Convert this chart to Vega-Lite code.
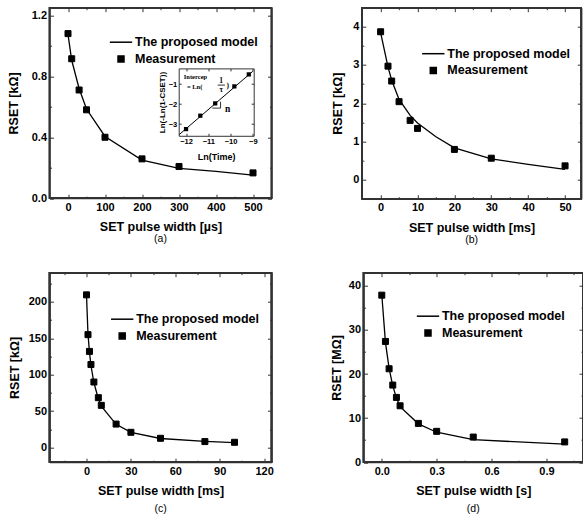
{
  "$schema": "https://vega.github.io/schema/vega-lite/v6.json",
  "background": "white",
  "padding": {"left": 6.5, "top": 6.7, "right": 0, "bottom": 0},
  "config": {
    "view": {"stroke": null},
    "font": "Liberation Sans",
    "axis": {
      "labelFont": "Liberation Sans", "labelFontWeight": "bold", "labelFontSize": 11, "labelColor": "black",
      "titleFont": "Liberation Sans", "titleFontWeight": "bold", "titleFontSize": 12.5, "titleColor": "black",
      "domainColor": "#333", "tickColor": "#333", "domainWidth": 1.2, "tickWidth": 1, "grid": false,
      "tickSize": -4, "labelPadding": 7, "labelFlush": false, "labelOverlap": false, "titlePadding": 8.5
    },
    "legend": {"orient": "none", "title": null, "labelFont": "Liberation Sans", "labelFontSize": 12.5, "labelFontWeight": "bold", "labelColor": "black", "labelOffset": 2, "rowPadding": 3.5, "padding": 0},
    "title": {"font": "Liberation Sans", "fontSize": 10.5, "fontWeight": "normal", "color": "black"}
  },
  "resolve": {"scale": {"shape": "independent", "size": "independent"}, "legend": {"shape": "independent", "size": "independent"}},
  "datasets": {
    "a_meas": [
      {"x": 0, "y": 1.08, "s": "Measurement"}, {"x": 10, "y": 0.915, "s": "Measurement"},
      {"x": 30, "y": 0.71, "s": "Measurement"}, {"x": 50, "y": 0.58, "s": "Measurement"},
      {"x": 100, "y": 0.40, "s": "Measurement"}, {"x": 200, "y": 0.258, "s": "Measurement"},
      {"x": 300, "y": 0.208, "s": "Measurement"}, {"x": 500, "y": 0.166, "s": "Measurement"}
    ],
    "a_model": [
      {"x": 0, "y": 1.075}, {"x": 10, "y": 0.905}, {"x": 30, "y": 0.72}, {"x": 50, "y": 0.585},
      {"x": 100, "y": 0.405}, {"x": 200, "y": 0.25}, {"x": 300, "y": 0.196}, {"x": 400, "y": 0.176}, {"x": 500, "y": 0.152}
    ],
    "b_meas": [
      {"x": 0, "y": 3.87, "s": "Measurement"}, {"x": 2, "y": 2.97, "s": "Measurement"},
      {"x": 3, "y": 2.58, "s": "Measurement"}, {"x": 5, "y": 2.04, "s": "Measurement"},
      {"x": 8, "y": 1.55, "s": "Measurement"}, {"x": 10, "y": 1.34, "s": "Measurement"},
      {"x": 20, "y": 0.79, "s": "Measurement"}, {"x": 30, "y": 0.56, "s": "Measurement"},
      {"x": 50, "y": 0.36, "s": "Measurement"}
    ],
    "b_model": [
      {"x": 0, "y": 3.85}, {"x": 2, "y": 2.95}, {"x": 3, "y": 2.6}, {"x": 5, "y": 2.1}, {"x": 8, "y": 1.68},
      {"x": 10, "y": 1.48}, {"x": 15, "y": 1.12}, {"x": 20, "y": 0.83}, {"x": 30, "y": 0.54}, {"x": 40, "y": 0.40}, {"x": 50, "y": 0.27}
    ],
    "c_meas": [
      {"x": 0, "y": 209.6, "s": "Measurement"}, {"x": 1, "y": 155, "s": "Measurement"},
      {"x": 2, "y": 132, "s": "Measurement"}, {"x": 3, "y": 114, "s": "Measurement"},
      {"x": 5, "y": 90, "s": "Measurement"}, {"x": 8, "y": 68.5, "s": "Measurement"},
      {"x": 10, "y": 58, "s": "Measurement"}, {"x": 20, "y": 32.3, "s": "Measurement"},
      {"x": 30, "y": 21, "s": "Measurement"}, {"x": 50, "y": 12.8, "s": "Measurement"},
      {"x": 80, "y": 8.3, "s": "Measurement"}, {"x": 100, "y": 7.3, "s": "Measurement"}
    ],
    "c_model": [
      {"x": 0, "y": 209}, {"x": 1, "y": 156}, {"x": 2, "y": 131}, {"x": 3, "y": 113}, {"x": 5, "y": 89},
      {"x": 8, "y": 67}, {"x": 10, "y": 57}, {"x": 20, "y": 32}, {"x": 30, "y": 21}, {"x": 50, "y": 12.5},
      {"x": 80, "y": 8.6}, {"x": 100, "y": 6.8}
    ],
    "d_meas": [
      {"x": 0, "y": 37.9, "s": "Measurement"}, {"x": 0.02, "y": 27.4, "s": "Measurement"},
      {"x": 0.04, "y": 21.2, "s": "Measurement"}, {"x": 0.06, "y": 17.5, "s": "Measurement"},
      {"x": 0.08, "y": 14.7, "s": "Measurement"}, {"x": 0.1, "y": 12.8, "s": "Measurement"},
      {"x": 0.2, "y": 8.8, "s": "Measurement"}, {"x": 0.3, "y": 7.0, "s": "Measurement"},
      {"x": 0.5, "y": 5.7, "s": "Measurement"}, {"x": 1.0, "y": 4.6, "s": "Measurement"}
    ],
    "d_model": [
      {"x": 0, "y": 38}, {"x": 0.02, "y": 27.2}, {"x": 0.04, "y": 21.3}, {"x": 0.06, "y": 17.3},
      {"x": 0.08, "y": 14.6}, {"x": 0.1, "y": 12.6}, {"x": 0.2, "y": 8.7}, {"x": 0.3, "y": 6.8},
      {"x": 0.5, "y": 5.1}, {"x": 1.0, "y": 4.1}
    ],
    "in_pts": [
      {"x": -12.0, "y": -3.25}, {"x": -11.36, "y": -2.58}, {"x": -10.69, "y": -1.965},
      {"x": -9.83, "y": -1.115}, {"x": -9.18, "y": -0.515}
    ],
    "in_fit": [{"x": -12.3, "y": -3.52}, {"x": -9.0, "y": -0.36}],
    "in_rules": [
      {"x": -10.82, "x2": -10.45, "y": -2.2, "y2": -2.2},
      {"x": -10.45, "x2": -10.45, "y": -1.88, "y2": -2.2},
      {"x": -10.58, "x2": -10.25, "y": -1.05, "y2": -1.05}
    ],
    "in_txt1": [{"x": -12.1, "y": -0.67, "t": "Intercep"}, {"x": -11.96, "y": -1.16, "t": "= Ln("}],
    "in_txt2": [{"x": -10.42, "y": -0.85, "t": "1"}, {"x": -10.42, "y": -1.28, "t": "τ"}, {"x": -10.13, "y": -1.12, "t": ")"}],
    "in_txt3": [{"x": -10.25, "y": -2.27, "t": "n"}]
  },
  "vconcat": [
    {
      "spacing": 58.3,
      "resolve": {"scale": {"shape": "independent", "size": "independent"}, "legend": {"shape": "independent", "size": "independent"}},
      "hconcat": [
        {
          "width": 222, "height": 190.5,
          "title": {"text": "(a)", "orient": "bottom", "offset": 1},
          "layer": [
            {"data": {"name": "a_meas"}, "mark": {"type": "rect", "filled": false, "fill": "transparent", "stroke": "#333", "strokeWidth": 1.2},
             "encoding": {
               "x": {"datum": -50, "type": "quantitative", "scale": {"domain": [-50, 550], "nice": false, "zero": false}, "axis": null},
               "x2": {"datum": 550},
               "y": {"datum": 0, "type": "quantitative", "scale": {"domain": [0, 1.25], "nice": false, "zero": false}, "axis": null},
               "y2": {"datum": 1.25}}},
            {"data": {"name": "a_model"}, "mark": {"type": "line", "color": "black", "strokeWidth": 1.3},
             "encoding": {
               "x": {"field": "x", "type": "quantitative", "scale": {"domain": [-50, 550], "nice": false, "zero": false},
                     "axis": {"orient": "bottom", "values": [0, 100, 200, 300, 400, 500], "title": "SET pulse width [µs]"}},
               "y": {"field": "y", "type": "quantitative", "scale": {"domain": [0, 1.25], "nice": false, "zero": false},
                     "axis": {"orient": "left", "values": [0, 0.4, 0.8, 1.2], "format": ".1f", "title": "RSET [kΩ]", "titlePadding": 11}}}},
            {"data": {"name": "a_meas"}, "mark": {"type": "point", "filled": true, "fill": "black", "stroke": "black", "strokeWidth": 1, "opacity": 1},
             "encoding": {
               "x": {"field": "x", "type": "quantitative", "scale": {"domain": [-50, 550], "nice": false, "zero": false},
                     "axis": {"orient": "top", "values": [0, 100, 200, 300, 400, 500], "labels": false, "title": null}},
               "y": {"field": "y", "type": "quantitative", "scale": {"domain": [0, 1.25], "nice": false, "zero": false},
                     "axis": {"orient": "right", "values": [0, 0.4, 0.8, 1.2], "labels": false, "title": null}},
               "shape": {"field": "s", "type": "nominal", "scale": {"domain": ["The proposed model", "Measurement"], "range": ["stroke", "square"]},
                         "legend": {"legendX": 59.5, "legendY": 22.5, "encode": {"symbols": {"update": {"stroke": {"value": "black"}, "strokeWidth": {"value": 1.3}, "fill": {"value": "black"}, "opacity": {"value": 1}}}}}},
               "size": {"field": "s", "type": "nominal", "scale": {"type": "ordinal", "domain": ["The proposed model", "Measurement"], "range": [500, 36]},
                         "legend": {"legendX": 59.5, "legendY": 22.5, "encode": {"symbols": {"update": {"stroke": {"value": "black"}, "strokeWidth": {"value": 1.3}, "fill": {"value": "black"}, "opacity": {"value": 1}}}}}}}},
            {"data": {"name": "a_meas"}, "mark": {"type": "point", "opacity": 0},
             "encoding": {
               "x": {"field": "x", "type": "quantitative", "scale": {"domain": [-50, 550], "nice": false, "zero": false},
                     "axis": {"orient": "bottom", "values": [50, 150, 250, 350, 450], "labels": false, "domain": false, "tickSize": -2, "title": null}},
               "y": {"field": "y", "type": "quantitative", "scale": {"domain": [0, 1.25], "nice": false, "zero": false},
                     "axis": {"orient": "left", "values": [0.2, 0.6, 1.0], "labels": false, "domain": false, "tickSize": -2, "title": null}}}},
            {"data": {"name": "a_meas"}, "mark": {"type": "point", "opacity": 0},
             "encoding": {
               "x": {"field": "x", "type": "quantitative", "scale": {"domain": [-50, 550], "nice": false, "zero": false},
                     "axis": {"orient": "top", "values": [50, 150, 250, 350, 450], "labels": false, "domain": false, "tickSize": -2, "title": null}},
               "y": {"field": "y", "type": "quantitative", "scale": {"domain": [0, 1.25], "nice": false, "zero": false},
                     "axis": {"orient": "right", "values": [0.2, 0.6, 1.0], "labels": false, "domain": false, "tickSize": -2, "title": null}}}},
            {"data": {"name": "in_fit"}, "mark": {"type": "line", "color": "black", "strokeWidth": 1},
             "encoding": {
               "x": {"field": "x", "type": "quantitative", "scale": {"domain": [-12.33, -8.96], "range": [129.2, 204.2], "nice": false, "zero": false},
                     "axis": {"orient": "bottom", "offset": -62.4, "values": [-12, -11, -10, -9], "tickSize": -2.5, "labelPadding": 4.5, "labelFontSize": 7.5, "title": "Ln(Time)", "titleFontSize": 9, "titlePadding": 7, "domainWidth": 1}},
               "y": {"field": "y", "type": "quantitative", "scale": {"domain": [-3.58, -0.215], "range": [128, 60.7], "nice": false, "zero": false},
                     "axis": {"orient": "left", "offset": -129.2, "values": [-3, -2, -1], "tickSize": -2.5, "labelPadding": 4.5, "labelFontSize": 7.5, "title": "Ln(-Ln(1-CSET))", "titleFontSize": 8, "titlePadding": 2, "domainWidth": 1}}}},
            {"data": {"name": "in_pts"}, "mark": {"type": "square", "color": "black", "size": 18, "opacity": 1},
             "encoding": {
               "x": {"field": "x", "type": "quantitative", "scale": {"domain": [-12.33, -8.96], "range": [129.2, 204.2], "nice": false, "zero": false},
                     "axis": {"orient": "top", "offset": -60.7, "values": [-12, -11, -10, -9], "tickSize": -2.5, "labels": false, "title": null, "domainWidth": 1}},
               "y": {"field": "y", "type": "quantitative", "scale": {"domain": [-3.58, -0.215], "range": [128, 60.7], "nice": false, "zero": false},
                     "axis": {"orient": "right", "offset": -17.8, "values": [-3, -2, -1], "tickSize": -2.5, "labels": false, "title": null, "domainWidth": 1}}}},
            {"data": {"name": "in_rules"}, "mark": {"type": "rule", "color": "black", "strokeWidth": 0.8},
             "encoding": {
               "x": {"field": "x", "type": "quantitative", "scale": {"domain": [-12.33, -8.96], "range": [129.2, 204.2], "nice": false, "zero": false}, "axis": null},
               "x2": {"field": "x2"},
               "y": {"field": "y", "type": "quantitative", "scale": {"domain": [-3.58, -0.215], "range": [128, 60.7], "nice": false, "zero": false}, "axis": null},
               "y2": {"field": "y2"}}},
            {"data": {"name": "in_txt1"}, "mark": {"type": "text", "font": "Liberation Serif", "fontWeight": "bold", "fontSize": 6.5, "align": "left", "baseline": "middle", "color": "black"},
             "encoding": {
               "x": {"field": "x", "type": "quantitative", "scale": {"domain": [-12.33, -8.96], "range": [129.2, 204.2], "nice": false, "zero": false}, "axis": null},
               "y": {"field": "y", "type": "quantitative", "scale": {"domain": [-3.58, -0.215], "range": [128, 60.7], "nice": false, "zero": false}, "axis": null},
               "text": {"field": "t", "type": "nominal"}}},
            {"data": {"name": "in_txt2"}, "mark": {"type": "text", "font": "Liberation Serif", "fontWeight": "bold", "fontSize": 7.5, "align": "center", "baseline": "middle", "color": "black"},
             "encoding": {
               "x": {"field": "x", "type": "quantitative", "scale": {"domain": [-12.33, -8.96], "range": [129.2, 204.2], "nice": false, "zero": false}, "axis": null},
               "y": {"field": "y", "type": "quantitative", "scale": {"domain": [-3.58, -0.215], "range": [128, 60.7], "nice": false, "zero": false}, "axis": null},
               "text": {"field": "t", "type": "nominal"}}},
            {"data": {"name": "in_txt3"}, "mark": {"type": "text", "font": "Liberation Serif", "fontWeight": "bold", "fontSize": 9.5, "align": "left", "baseline": "middle", "color": "black"},
             "encoding": {
               "x": {"field": "x", "type": "quantitative", "scale": {"domain": [-12.33, -8.96], "range": [129.2, 204.2], "nice": false, "zero": false}, "axis": null},
               "y": {"field": "y", "type": "quantitative", "scale": {"domain": [-3.58, -0.215], "range": [128, 60.7], "nice": false, "zero": false}, "axis": null},
               "text": {"field": "t", "type": "nominal"}}}
          ],
          "resolve": {"scale": {"x": "independent", "y": "independent"}, "axis": {"x": "independent", "y": "independent"}}
        },
        {
          "width": 219.5, "height": 191,
          "title": {"text": "(b)", "orient": "bottom", "offset": 1},
          "layer": [
            {"data": {"name": "b_meas"}, "mark": {"type": "rect", "filled": false, "fill": "transparent", "stroke": "#333", "strokeWidth": 1.2},
             "encoding": {
               "x": {"datum": -5.1, "type": "quantitative", "scale": {"domain": [-5.1, 54.4], "nice": false, "zero": false}, "axis": null},
               "x2": {"datum": 54.4},
               "y": {"datum": -0.5, "type": "quantitative", "scale": {"domain": [-0.5, 4.5], "nice": false, "zero": false}, "axis": null},
               "y2": {"datum": 4.5}}},
            {"data": {"name": "b_model"}, "mark": {"type": "line", "color": "black", "strokeWidth": 1.3},
             "encoding": {
               "x": {"field": "x", "type": "quantitative", "scale": {"domain": [-5.1, 54.4], "nice": false, "zero": false},
                     "axis": {"orient": "bottom", "values": [0, 10, 20, 30, 40, 50], "title": "SET pulse width [ms]"}},
               "y": {"field": "y", "type": "quantitative", "scale": {"domain": [-0.5, 4.5], "nice": false, "zero": false},
                     "axis": {"orient": "left", "values": [0, 1, 2, 3, 4], "title": "RSET [kΩ]", "titlePadding": 8.5}}}},
            {"data": {"name": "b_meas"}, "mark": {"type": "point", "filled": true, "fill": "black", "stroke": "black", "strokeWidth": 1, "opacity": 1},
             "encoding": {
               "x": {"field": "x", "type": "quantitative", "scale": {"domain": [-5.1, 54.4], "nice": false, "zero": false},
                     "axis": {"orient": "top", "values": [0, 10, 20, 30, 40, 50], "labels": false, "title": null}},
               "y": {"field": "y", "type": "quantitative", "scale": {"domain": [-0.5, 4.5], "nice": false, "zero": false},
                     "axis": {"orient": "right", "values": [0, 1, 2, 3, 4], "labels": false, "title": null}},
               "shape": {"field": "s", "type": "nominal", "scale": {"domain": ["The proposed model", "Measurement"], "range": ["stroke", "square"]},
                         "legend": {"legendX": 59.5, "legendY": 34, "encode": {"symbols": {"update": {"stroke": {"value": "black"}, "strokeWidth": {"value": 1.3}, "fill": {"value": "black"}, "opacity": {"value": 1}}}}}},
               "size": {"field": "s", "type": "nominal", "scale": {"type": "ordinal", "domain": ["The proposed model", "Measurement"], "range": [500, 36]},
                         "legend": {"legendX": 59.5, "legendY": 34, "encode": {"symbols": {"update": {"stroke": {"value": "black"}, "strokeWidth": {"value": 1.3}, "fill": {"value": "black"}, "opacity": {"value": 1}}}}}}}},
            {"data": {"name": "b_meas"}, "mark": {"type": "point", "opacity": 0},
             "encoding": {
               "x": {"field": "x", "type": "quantitative", "scale": {"domain": [-5.1, 54.4], "nice": false, "zero": false},
                     "axis": {"orient": "bottom", "values": [5, 15, 25, 35, 45], "labels": false, "domain": false, "tickSize": -2, "title": null}},
               "y": {"field": "y", "type": "quantitative", "scale": {"domain": [-0.5, 4.5], "nice": false, "zero": false},
                     "axis": {"orient": "left", "values": [0.5, 1.5, 2.5, 3.5], "labels": false, "domain": false, "tickSize": -2, "title": null}}}},
            {"data": {"name": "b_meas"}, "mark": {"type": "point", "opacity": 0},
             "encoding": {
               "x": {"field": "x", "type": "quantitative", "scale": {"domain": [-5.1, 54.4], "nice": false, "zero": false},
                     "axis": {"orient": "top", "values": [5, 15, 25, 35, 45], "labels": false, "domain": false, "tickSize": -2, "title": null}},
               "y": {"field": "y", "type": "quantitative", "scale": {"domain": [-0.5, 4.5], "nice": false, "zero": false},
                     "axis": {"orient": "right", "values": [0.5, 1.5, 2.5, 3.5], "labels": false, "domain": false, "tickSize": -2, "title": null}}}}
          ],
          "resolve": {"scale": {"x": "independent", "y": "independent"}, "axis": {"x": "independent", "y": "independent"}}
        }
      ]
    },
    {
      "spacing": 56,
      "resolve": {"scale": {"shape": "independent", "size": "independent"}, "legend": {"shape": "independent", "size": "independent"}},
      "hconcat": [
        {
          "width": 222, "height": 189.5,
          "title": {"text": "(c)", "orient": "bottom", "offset": 6.5},
          "layer": [
            {"data": {"name": "c_meas"}, "mark": {"type": "rect", "filled": false, "fill": "transparent", "stroke": "#333", "strokeWidth": 1.2},
             "encoding": {
               "x": {"datum": -25, "type": "quantitative", "scale": {"domain": [-25, 125], "nice": false, "zero": false}, "axis": null},
               "x2": {"datum": 125},
               "y": {"datum": -20, "type": "quantitative", "scale": {"domain": [-20, 240], "nice": false, "zero": false}, "axis": null},
               "y2": {"datum": 240}}},
            {"data": {"name": "c_model"}, "mark": {"type": "line", "color": "black", "strokeWidth": 1.3},
             "encoding": {
               "x": {"field": "x", "type": "quantitative", "scale": {"domain": [-25, 125], "nice": false, "zero": false},
                     "axis": {"orient": "bottom", "values": [0, 30, 60, 90, 120], "title": "SET pulse width [ms]"}},
               "y": {"field": "y", "type": "quantitative", "scale": {"domain": [-20, 240], "nice": false, "zero": false},
                     "axis": {"orient": "left", "values": [0, 50, 100, 150, 200], "title": "RSET [kΩ]", "titlePadding": 6.5}}}},
            {"data": {"name": "c_meas"}, "mark": {"type": "point", "filled": true, "fill": "black", "stroke": "black", "strokeWidth": 1, "opacity": 1},
             "encoding": {
               "x": {"field": "x", "type": "quantitative", "scale": {"domain": [-25, 125], "nice": false, "zero": false},
                     "axis": {"orient": "top", "values": [0, 30, 60, 90, 120], "labels": false, "title": null}},
               "y": {"field": "y", "type": "quantitative", "scale": {"domain": [-20, 240], "nice": false, "zero": false},
                     "axis": {"orient": "right", "values": [0, 50, 100, 150, 200], "labels": false, "title": null}},
               "shape": {"field": "s", "type": "nominal", "scale": {"domain": ["The proposed model", "Measurement"], "range": ["stroke", "square"]},
                         "legend": {"legendX": 60.7, "legendY": 34.5, "encode": {"symbols": {"update": {"stroke": {"value": "black"}, "strokeWidth": {"value": 1.3}, "fill": {"value": "black"}, "opacity": {"value": 1}}}}}},
               "size": {"field": "s", "type": "nominal", "scale": {"type": "ordinal", "domain": ["The proposed model", "Measurement"], "range": [500, 36]},
                         "legend": {"legendX": 60.7, "legendY": 34.5, "encode": {"symbols": {"update": {"stroke": {"value": "black"}, "strokeWidth": {"value": 1.3}, "fill": {"value": "black"}, "opacity": {"value": 1}}}}}}}},
            {"data": {"name": "c_meas"}, "mark": {"type": "point", "opacity": 0},
             "encoding": {
               "x": {"field": "x", "type": "quantitative", "scale": {"domain": [-25, 125], "nice": false, "zero": false},
                     "axis": {"orient": "bottom", "values": [-15, 15, 45, 75, 105], "labels": false, "domain": false, "tickSize": -2, "title": null}},
               "y": {"field": "y", "type": "quantitative", "scale": {"domain": [-20, 240], "nice": false, "zero": false},
                     "axis": {"orient": "left", "values": [25, 75, 125, 175, 225], "labels": false, "domain": false, "tickSize": -2, "title": null}}}},
            {"data": {"name": "c_meas"}, "mark": {"type": "point", "opacity": 0},
             "encoding": {
               "x": {"field": "x", "type": "quantitative", "scale": {"domain": [-25, 125], "nice": false, "zero": false},
                     "axis": {"orient": "top", "values": [-15, 15, 45, 75, 105], "labels": false, "domain": false, "tickSize": -2, "title": null}},
               "y": {"field": "y", "type": "quantitative", "scale": {"domain": [-20, 240], "nice": false, "zero": false},
                     "axis": {"orient": "right", "values": [25, 75, 125, 175, 225], "labels": false, "domain": false, "tickSize": -2, "title": null}}}}
          ],
          "resolve": {"scale": {"x": "independent", "y": "independent"}, "axis": {"x": "independent", "y": "independent"}}
        },
        {
          "width": 219.5, "height": 189.5,
          "title": {"text": "(d)", "orient": "bottom", "offset": 6.5},
          "layer": [
            {"data": {"name": "d_meas"}, "mark": {"type": "rect", "filled": false, "fill": "transparent", "stroke": "#333", "strokeWidth": 1.2},
             "encoding": {
               "x": {"datum": -0.1, "type": "quantitative", "scale": {"domain": [-0.1, 1.1], "nice": false, "zero": false}, "axis": null},
               "x2": {"datum": 1.1},
               "y": {"datum": 0, "type": "quantitative", "scale": {"domain": [0, 43], "nice": false, "zero": false}, "axis": null},
               "y2": {"datum": 43}}},
            {"data": {"name": "d_model"}, "mark": {"type": "line", "color": "black", "strokeWidth": 1.3},
             "encoding": {
               "x": {"field": "x", "type": "quantitative", "scale": {"domain": [-0.1, 1.1], "nice": false, "zero": false},
                     "axis": {"orient": "bottom", "values": [0, 0.3, 0.6, 0.9], "format": ".1f", "title": "SET pulse width [s]"}},
               "y": {"field": "y", "type": "quantitative", "scale": {"domain": [0, 43], "nice": false, "zero": false},
                     "axis": {"orient": "left", "values": [0, 10, 20, 30, 40], "title": "RSET [MΩ]", "titlePadding": 5}}}},
            {"data": {"name": "d_meas"}, "mark": {"type": "point", "filled": true, "fill": "black", "stroke": "black", "strokeWidth": 1, "opacity": 1},
             "encoding": {
               "x": {"field": "x", "type": "quantitative", "scale": {"domain": [-0.1, 1.1], "nice": false, "zero": false},
                     "axis": {"orient": "top", "values": [0, 0.3, 0.6, 0.9], "labels": false, "title": null}},
               "y": {"field": "y", "type": "quantitative", "scale": {"domain": [0, 43], "nice": false, "zero": false},
                     "axis": {"orient": "right", "values": [0, 10, 20, 30, 40], "labels": false, "title": null}},
               "shape": {"field": "s", "type": "nominal", "scale": {"domain": ["The proposed model", "Measurement"], "range": ["stroke", "square"]},
                         "legend": {"legendX": 52.5, "legendY": 31.5, "encode": {"symbols": {"update": {"stroke": {"value": "black"}, "strokeWidth": {"value": 1.3}, "fill": {"value": "black"}, "opacity": {"value": 1}}}}}},
               "size": {"field": "s", "type": "nominal", "scale": {"type": "ordinal", "domain": ["The proposed model", "Measurement"], "range": [500, 36]},
                         "legend": {"legendX": 52.5, "legendY": 31.5, "encode": {"symbols": {"update": {"stroke": {"value": "black"}, "strokeWidth": {"value": 1.3}, "fill": {"value": "black"}, "opacity": {"value": 1}}}}}}}},
            {"data": {"name": "d_meas"}, "mark": {"type": "point", "opacity": 0},
             "encoding": {
               "x": {"field": "x", "type": "quantitative", "scale": {"domain": [-0.1, 1.1], "nice": false, "zero": false},
                     "axis": {"orient": "bottom", "values": [0.15, 0.45, 0.75, 1.05], "labels": false, "domain": false, "tickSize": -2, "title": null}},
               "y": {"field": "y", "type": "quantitative", "scale": {"domain": [0, 43], "nice": false, "zero": false},
                     "axis": {"orient": "left", "values": [5, 15, 25, 35], "labels": false, "domain": false, "tickSize": -2, "title": null}}}},
            {"data": {"name": "d_meas"}, "mark": {"type": "point", "opacity": 0},
             "encoding": {
               "x": {"field": "x", "type": "quantitative", "scale": {"domain": [-0.1, 1.1], "nice": false, "zero": false},
                     "axis": {"orient": "top", "values": [0.15, 0.45, 0.75, 1.05], "labels": false, "domain": false, "tickSize": -2, "title": null}},
               "y": {"field": "y", "type": "quantitative", "scale": {"domain": [0, 43], "nice": false, "zero": false},
                     "axis": {"orient": "right", "values": [5, 15, 25, 35], "labels": false, "domain": false, "tickSize": -2, "title": null}}}}
          ],
          "resolve": {"scale": {"x": "independent", "y": "independent"}, "axis": {"x": "independent", "y": "independent"}}
        }
      ]
    }
  ],
  "spacing": 26
}
